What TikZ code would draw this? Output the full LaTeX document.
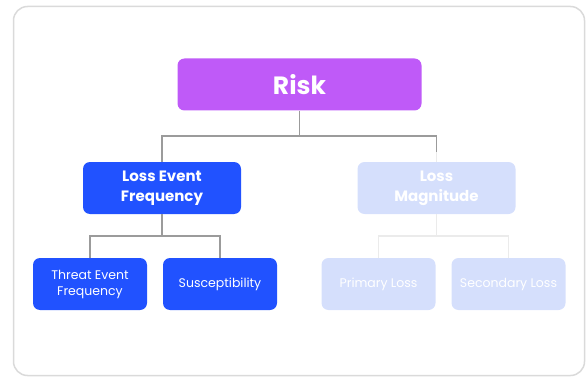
\documentclass[tikz,border=0pt]{standalone}
\usepackage{fontspec}
\setmainfont{Poppins}
\usetikzlibrary{positioning}
\definecolor{riskpurple}{HTML}{BF5AF8}
\definecolor{lefblue}{HTML}{2152FF}
\definecolor{lmpale}{HTML}{D5DFFC}
\definecolor{linegray}{HTML}{9B9B9B}
\definecolor{linepale}{HTML}{EBEBEB}
\definecolor{framegray}{HTML}{DADADA}
\begin{document}
\begin{tikzpicture}[x=1pt, y=-1pt,
    box/.style={rectangle, rounded corners=7pt, text=white, align=center, inner sep=0pt, minimum height=52pt},
    topbox/.style={box, fill=riskpurple, minimum width=244pt, font=\fontsize{25}{30}\selectfont\bfseries},
    midbox/.style={box, minimum width=158pt, font=\fontsize{15}{20}\selectfont\bfseries},
    leafbox/.style={box, minimum width=114pt, font=\fontsize{12.5}{16}\selectfont},
    conn/.style={draw=linegray, line width=1.5pt},
    paleconn/.style={draw=linepale, line width=1.5pt}]
    \useasboundingbox (0,0) rectangle (586,377);
    \draw[framegray, line width=1.5pt, rounded corners=14pt] (13.5,6.5) rectangle (584.5,375.5);

    \node[topbox] (risk) at (299.5,84.5) {Risk};
    \node[midbox, fill=lefblue] (lef) at (162,188) {Loss Event\\Frequency};
    \node[midbox, fill=lmpale] (lm) at (436.5,188) {Loss\\Magnitude};

    \node[leafbox, fill=lefblue] (tef) at (90,284) {Threat Event\\Frequency};
    \node[leafbox, fill=lefblue] (susc) at (220,284) {Susceptibility};
    \node[leafbox, fill=lmpale] (pl) at (378.5,284) {Primary Loss};
    \node[leafbox, fill=lmpale] (sl) at (508.5,284) {Secondary Loss};

    \coordinate (risk_split) at (299.5,136);
    \coordinate (lm_stub) at (436.5,152);
    \coordinate (lef_split) at (162,236);
    \coordinate (lm_split) at (436.5,236);

    \draw[conn] (risk.south) -- (risk_split);
    \draw[conn] (lef.north) |- (risk_split) -| (lm_stub);
    \draw[paleconn] (lm_stub) -- (lm.north);
    \draw[conn] (lef.south) -- (lef_split);
    \draw[conn] (tef.north) |- (lef_split) -| (susc.north);
    \draw[paleconn] (lm.south) -- (lm_split);
    \draw[paleconn] (pl.north) |- (lm_split) -| (sl.north);
\end{tikzpicture}
\end{document}
